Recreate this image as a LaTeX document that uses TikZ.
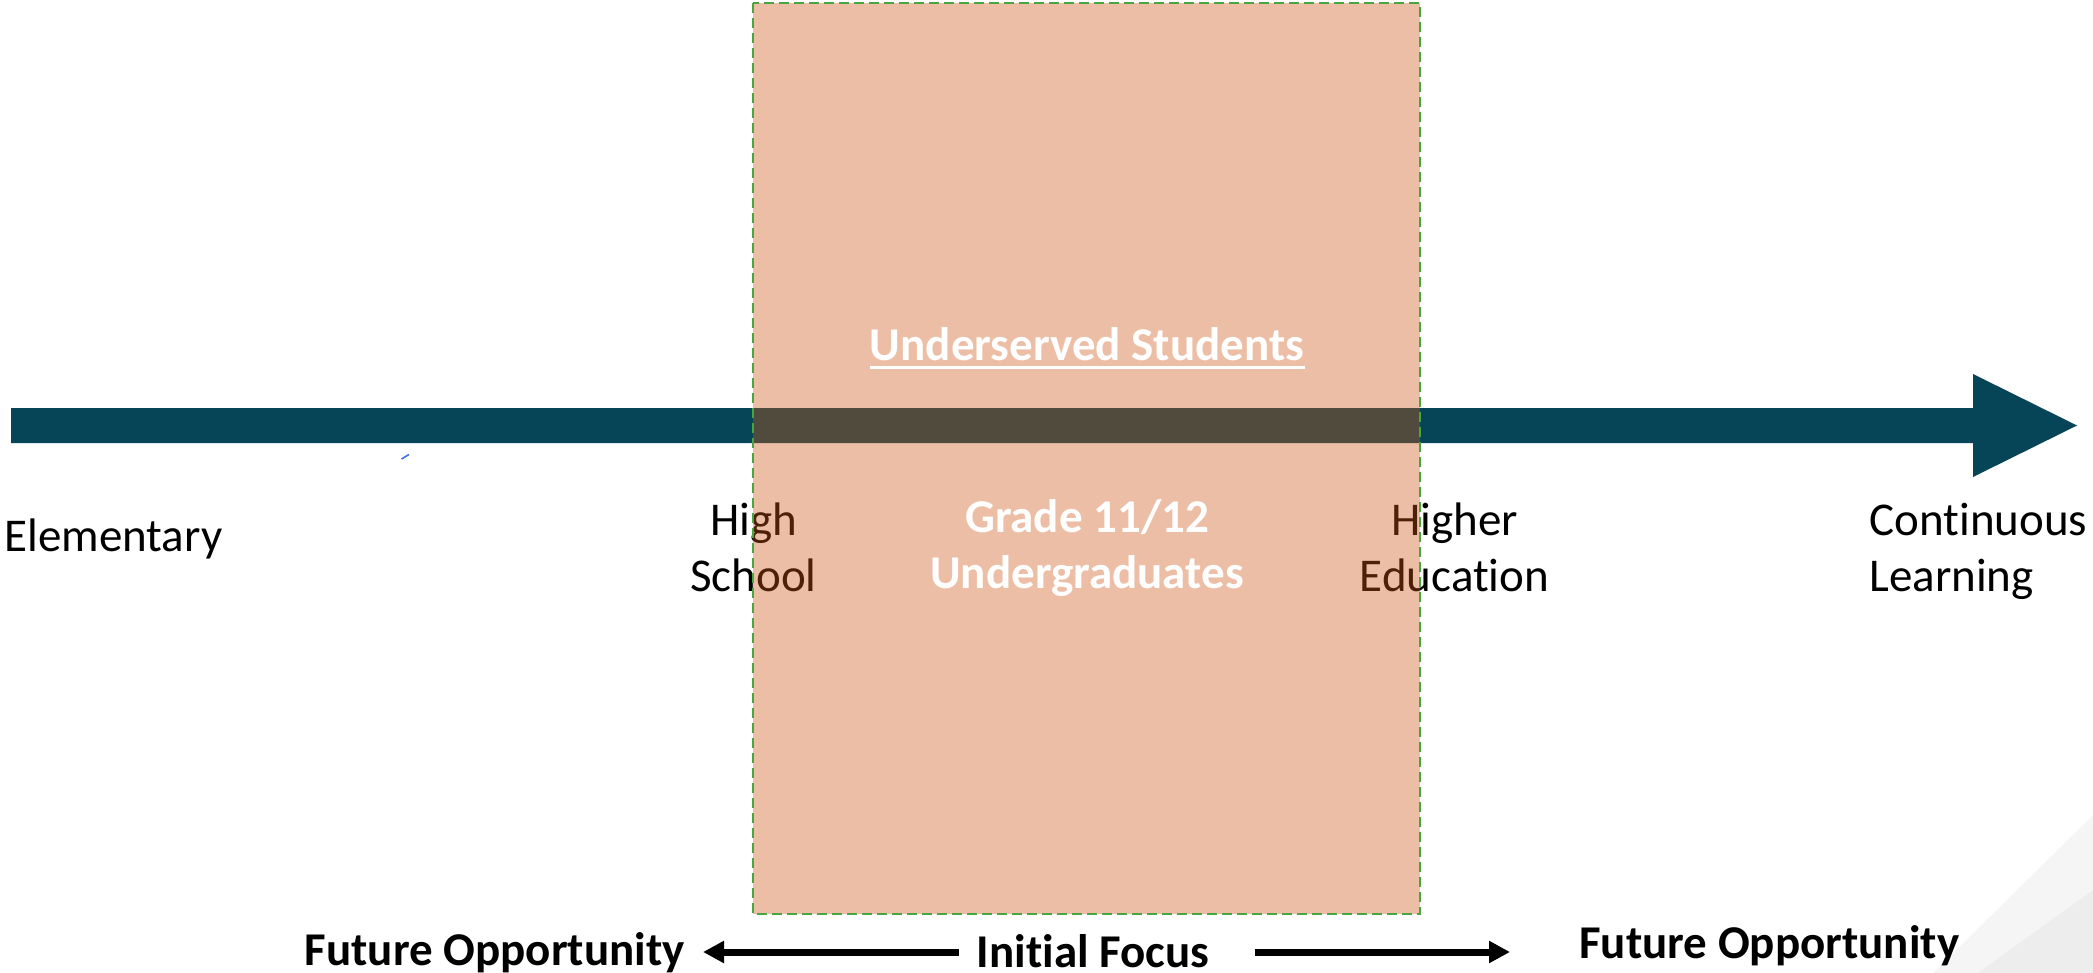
\documentclass[tikz,border=0pt]{standalone}
\usepackage{fontspec}
\setmainfont{Carlito}[RawFeature={-liga;-clig}]
\usetikzlibrary{arrows.meta}
\definecolor{teal}{RGB}{6,69,88}
\definecolor{boxfill}{RGB}{205,85,20}
\definecolor{dashgreen}{RGB}{72,166,64}
\definecolor{wedgeA}{RGB}{245,245,245}
\definecolor{wedgeB}{RGB}{237,237,237}
\definecolor{tickblue}{RGB}{70,110,220}
\begin{document}
\begin{tikzpicture}[x=0.5pt,y=-0.5pt,
  lbl/.style={inner sep=0pt, font=\fontsize{23.5}{28}\selectfont},
  blbl/.style={lbl, font=\fontsize{23.5}{28}\selectfont\bfseries},
  wlbl/.style={blbl, text=white},
  smallarrow/.style={line width=3.5pt, -{Triangle[length=10.5pt,width=10.5pt]}}
]
\useasboundingbox (0,0) rectangle (2093,973);
% background wedges
\fill[wedgeA] (2093,815) -- (1933,973) -- (2093,973) -- cycle;
\fill[wedgeB] (2093,890) -- (1978,973) -- (2093,973) -- cycle;
% main timeline arrow
\fill[teal] (11,408) -- (1973,408) -- (1973,374) -- (2077,425.5) -- (1973,477) -- (1973,443) -- (11,443) -- cycle;
\draw[tickblue, line width=0.8pt] (401.5,459) -- (409,454.5);
% stage labels
\node[lbl, anchor=base west] (elem) at (4,551) {Elementary};
\node[lbl, anchor=base] (hs1) at (753.5,535) {High};
\node[lbl, anchor=base] (hs2) at (753.5,591) {School};
\node[lbl, anchor=base] (he1) at (1454.5,535) {Higher};
\node[lbl, anchor=base] (he2) at (1454.5,591) {Education};
\node[lbl, anchor=base west] (cl1) at (1869,535) {Continuous};
\node[lbl, anchor=base west] (cl2) at (1869,591) {Learning};
% focus box overlay
\fill[boxfill, fill opacity=0.38] (753,3) rectangle (1420,914);
\draw[dashgreen, line width=1pt, dash pattern=on 5pt off 2.5pt] (753,3) rectangle (1420,914);
% white texts
\node[wlbl, anchor=base] (us) at (1087,360) {Underserved Students};
\draw[white, line width=1.4pt] ([yshift=-3.6pt]us.base west) -- ([yshift=-3.6pt]us.base east);
\node[wlbl, anchor=base] (gr) at (1087,532) {Grade 11/12};
\node[wlbl, anchor=base] (ug) at (1087,588) {Undergraduates};
% bottom row
\node[blbl, anchor=base east] (fol) at (685,965) {Future Opportunity};
\node[blbl, anchor=base] (inf) at (1093,967) {Initial Focus};
\node[blbl, anchor=base west] (for) at (1579,958) {Future Opportunity};
\coordinate (lt) at (959,952);
\coordinate (lh) at (703,952);
\coordinate (rt) at (1255,952);
\coordinate (rh) at (1510,952);
\draw[smallarrow] (lt) -- (lh);
\draw[smallarrow] (rt) -- (rh);
\end{tikzpicture}
\end{document}
